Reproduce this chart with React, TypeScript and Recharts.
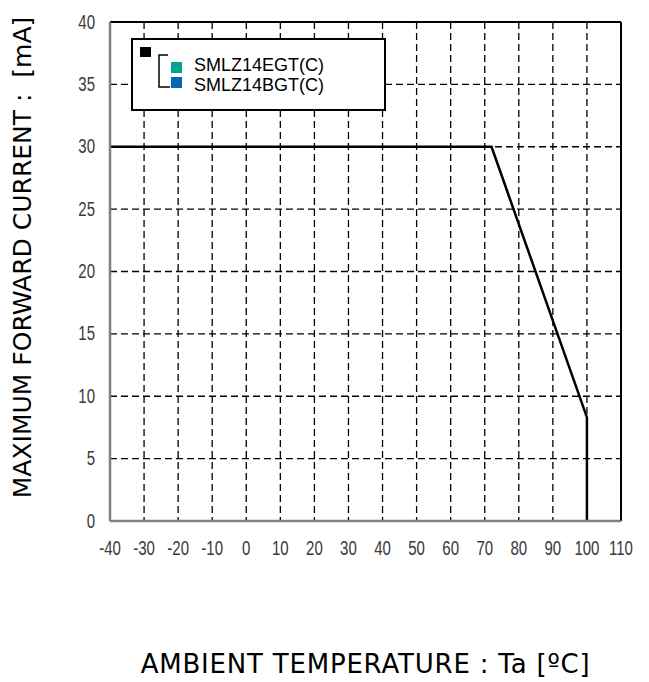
import {
  LineChart,
  Line,
  XAxis,
  YAxis,
  CartesianGrid,
  ReferenceLine,
  Legend,
} from 'recharts'

// derating curve: ambient temperature vs max forward current
const temps = [-40, 72, 100, 100]
const currents = [30, 30, 8.3, 0]

const xTicks = [-40, -30, -20, -10, 0, 10, 20, 30, 40, 50, 60, 70, 80, 90, 100, 110]
const yTicks = [0, 5, 10, 15, 20, 25, 30, 35, 40]

const legendNames = ['SMLZ14EGT(C)', 'SMLZ14BGT(C)']
const legendColors = ['#00a196', '#0068b7']

const data = temps.map((t, i) => ({ ta: t, ifm: currents[i] }))

// narrow tick font: squeeze a regular sans horizontally
function NarrowTick(props: any) {
  const { x, y, payload, textAnchor, side } = props
  const dy = side === 'bottom' ? 14 : 6.5
  return (
    <text
      transform={`translate(${x} ${y + dy}) scale(0.77 1)`}
      textAnchor={textAnchor}
      fontFamily='"Liberation Sans", Arial, sans-serif'
      fontSize={19.5}
      fill="#3a3a3a"
    >
      {payload.value}
    </text>
  )
}

function LegendBox() {
  return (
    <svg width={256} height={74} style={{ display: 'block' }}>
      <rect x={1} y={1} width={253} height={71} fill="#fff" stroke="#000" strokeWidth={2} />
      <rect x={9} y={9} width={11} height={10} fill="#000" />
      <path d="M37 17 H28 V49 H39" fill="none" stroke="#000" strokeWidth={1.5} />
      {legendNames.map((name, i) => (
        <g key={name}>
          <rect x={40} y={24 + i * 15} width={11} height={11} fill={legendColors[i]} />
          <text
            x={63}
            y={33 + i * 19.5}
            fontFamily='"Liberation Sans", Arial, sans-serif'
            fontSize={18}
            fill="#000"
          >
            {name}
          </text>
        </g>
      ))}
    </svg>
  )
}

export default function App() {
  return (
    <LineChart
      width={633}
      height={674}
      data={data}
      margin={{ top: 14, right: 20, left: 0, bottom: 0 }}
    >
      <CartesianGrid stroke="#000" strokeWidth={1.3} strokeDasharray="7 4" />
      <XAxis
        dataKey="ta"
        type="number"
        domain={[-40, 110]}
        ticks={xTicks}
        interval={0}
        height={161}
        tickLine={false}
        tickSize={0}
        tickMargin={20}
        tick={<NarrowTick side="bottom" />}
        axisLine={{ stroke: '#808080', strokeWidth: 2.5 }}
        label={({ viewBox }: any) => (
          <text
            x={viewBox.x + viewBox.width / 2}
            y={viewBox.y + 152}
            textAnchor="middle"
            fontFamily='"DejaVu Sans", Verdana, sans-serif'
            fontSize={26}
            letterSpacing={0.8}
            fill="#000"
          >
            AMBIENT TEMPERATURE : Ta [ºC]
          </text>
        )}
      />
      <YAxis
        type="number"
        domain={[0, 40]}
        ticks={yTicks}
        interval={0}
        width={102}
        tickLine={false}
        tickSize={0}
        tickMargin={15}
        tick={<NarrowTick side="left" />}
        axisLine={{ stroke: '#808080', strokeWidth: 2.5 }}
        label={({ viewBox }: any) => {
          const cx = viewBox.x + 14
          const cy = viewBox.y + viewBox.height / 2 - 14
          return (
            <text
              x={cx}
              y={cy}
              textAnchor="middle"
              dominantBaseline="central"
              transform={`rotate(-90 ${cx} ${cy})`}
              fontFamily='"DejaVu Sans", Verdana, sans-serif'
              fontSize={25}
              fill="#000"
            >
              {'MAXIMUM FORWARD CURRENT :\u00a0\u00a0[mA]'}
            </text>
          )
        }}
      />
      <ReferenceLine y={40} stroke="#000" strokeWidth={2} />
      <ReferenceLine x={110} stroke="#000" strokeWidth={2} />
      <Legend
        layout="vertical"
        align="center"
        verticalAlign="middle"
        content={() => <LegendBox />}
        wrapperStyle={{ position: 'absolute', left: 123, top: 30, width: 256, height: 74 }}
      />
      <Line
        dataKey="ifm"
        stroke="#000"
        strokeWidth={2.5}
        dot={false}
        activeDot={false}
        isAnimationActive={false}
        legendType="square"
      />
    </LineChart>
  )
}
